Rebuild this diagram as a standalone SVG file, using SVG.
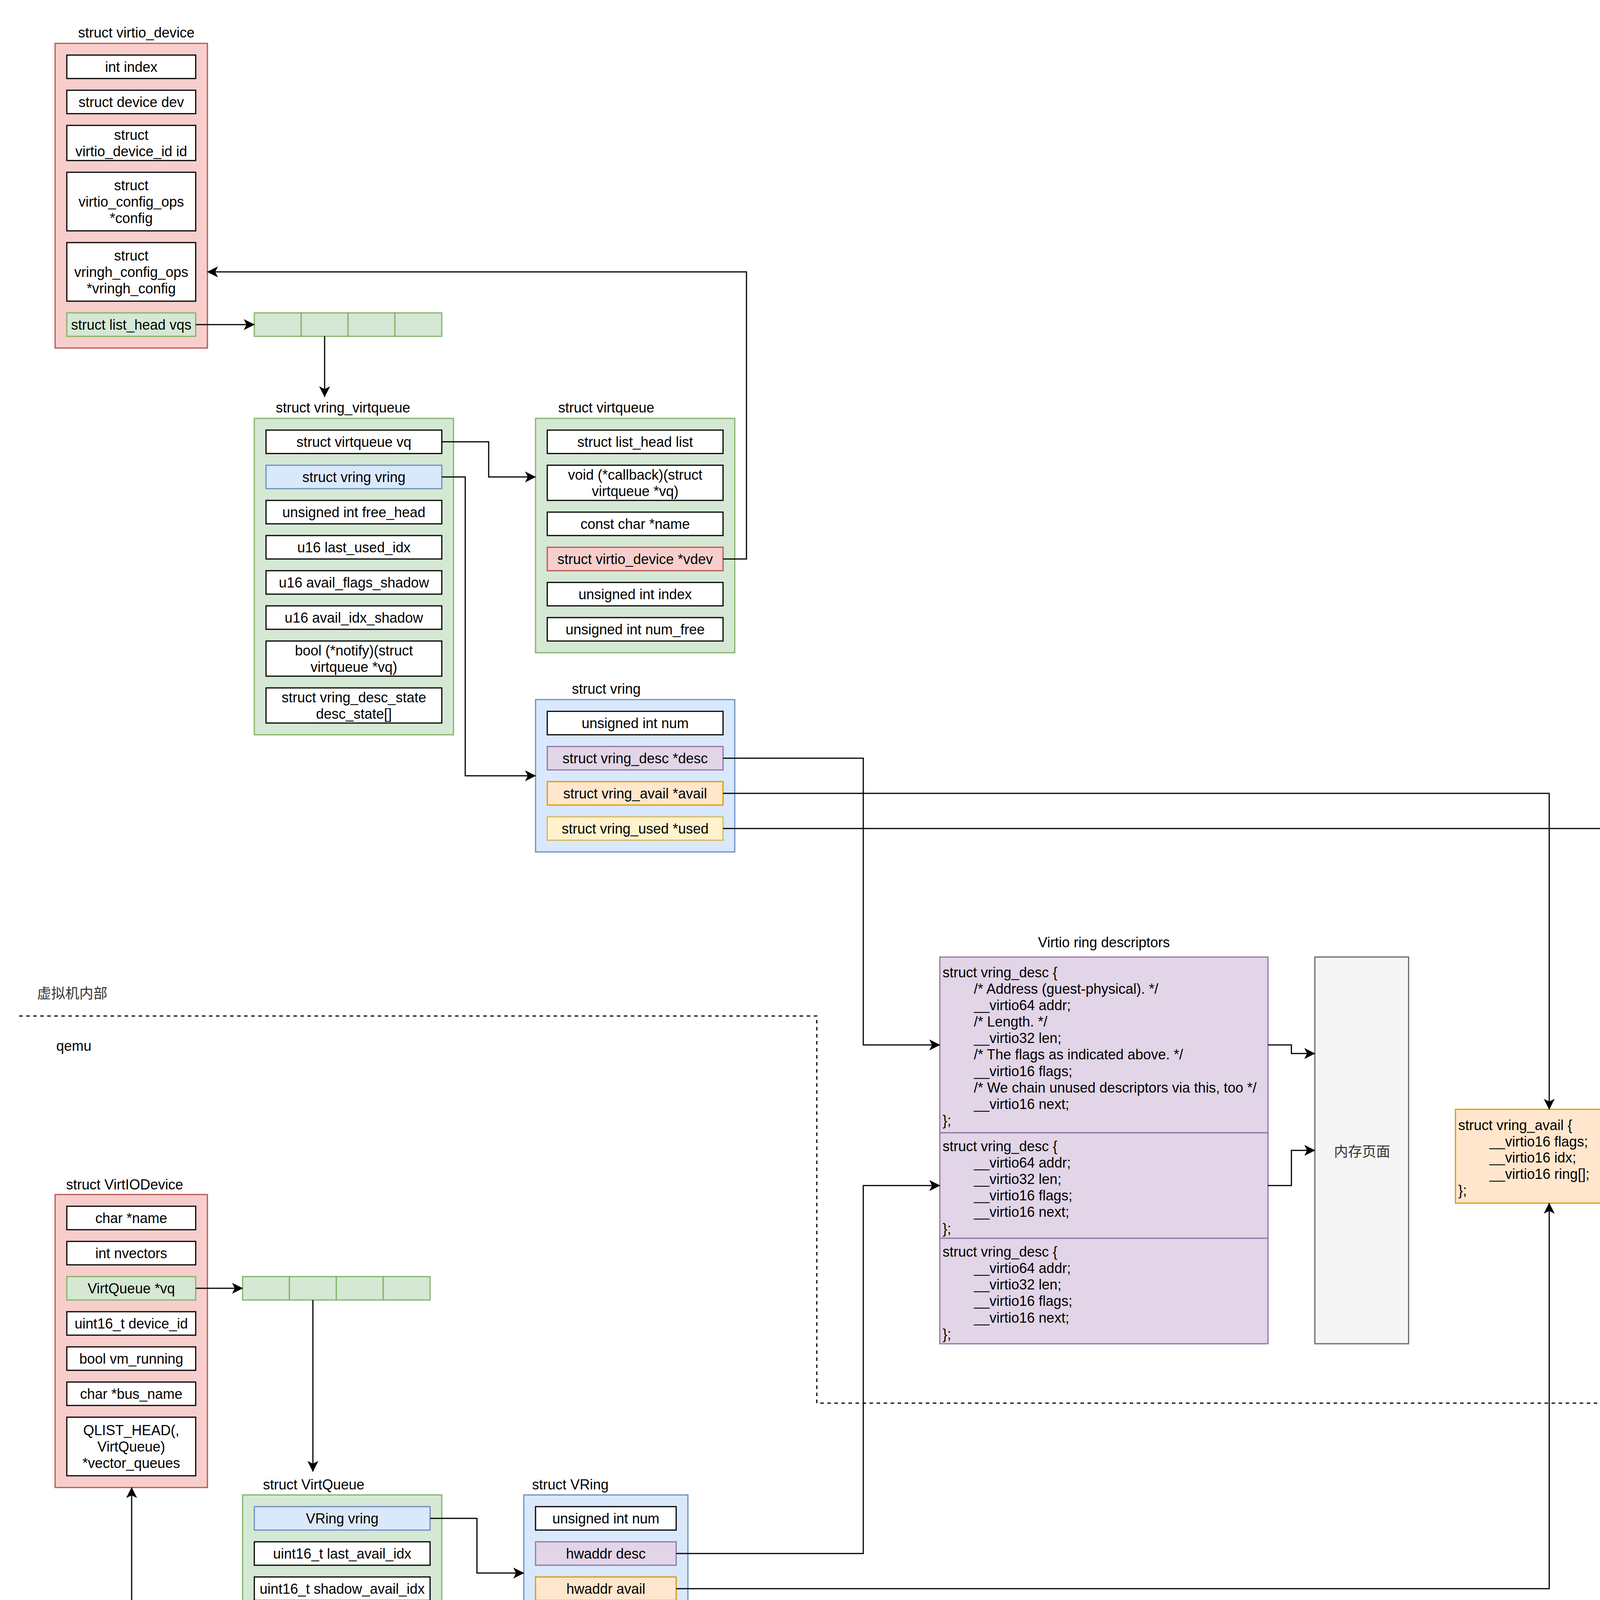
<svg xmlns="http://www.w3.org/2000/svg" width="5158" height="4690" viewBox="0 0 5158 4690">
<defs>
<style>
text{font-family:"Liberation Sans",Arial,Helvetica,sans-serif;font-size:36px;fill:#000}
.c{text-anchor:middle}
.cjk{font-family:"Noto Sans CJK SC","Liberation Sans",sans-serif;fill:#333}
.w{fill:#fff;stroke:#000;stroke-width:3}
.red{fill:#f8cecc;stroke:#b85450;stroke-width:3}
.grn{fill:#d5e8d4;stroke:#82b366;stroke-width:3}
.blu{fill:#dae8fc;stroke:#6c8ebf;stroke-width:3}
.pur{fill:#e1d5e7;stroke:#9673a6;stroke-width:3}
.org{fill:#ffe6cc;stroke:#d79b00;stroke-width:3}
.yel{fill:#fff2cc;stroke:#d6b656;stroke-width:3}
.gry{fill:#f5f5f5;stroke:#666666;stroke-width:3}
.conn{fill:none;stroke:#000;stroke-width:3;marker-end:url(#arr)}
.dash{fill:none;stroke:#000;stroke-width:3;stroke-dasharray:9 9}
</style>
<marker id="arr" viewBox="0 0 28 28" refX="27" refY="14" markerWidth="28" markerHeight="28" orient="auto" markerUnits="userSpaceOnUse"><path d="M0,0 L28,14 L0,28 L7,14 Z" fill="#000"/></marker>
</defs>
<rect width="5158" height="4690" fill="#fff"/>

<g id="region-labels">
<path class="dash" d="M49,2601 H2091 V3592 H5103"/>
<text class="cjk" x="95" y="2556">虚拟机内部</text>
<text x="144" y="2690">qemu</text>
</g>

<g id="virtio_device">
<text class="c" x="349" y="96">struct virtio_device</text>
<rect class="red" x="141" y="111" width="390" height="780"/>
<rect class="w" x="171" y="141" width="330" height="60"/><text class="c" x="336" y="184">int index</text>
<rect class="w" x="171" y="231" width="330" height="60"/><text class="c" x="336" y="274">struct device dev</text>
<rect class="w" x="171" y="321" width="330" height="90"/><text class="c" x="336" y="358">struct</text><text class="c" x="336" y="400">virtio_device_id id</text>
<rect class="w" x="171" y="441" width="330" height="150"/><text class="c" x="336" y="487">struct</text><text class="c" x="336" y="529">virtio_config_ops</text><text class="c" x="336" y="571">*config</text>
<rect class="w" x="171" y="621" width="330" height="150"/><text class="c" x="336" y="667">struct</text><text class="c" x="336" y="709">vringh_config_ops</text><text class="c" x="336" y="751">*vringh_config</text>
<rect class="grn" x="171" y="801" width="330" height="60"/><text class="c" x="336" y="844">struct list_head vqs</text>
</g>

<g id="vqs_array">
<rect class="grn" x="651" y="801" width="120" height="60"/>
<rect class="grn" x="771" y="801" width="120" height="60"/>
<rect class="grn" x="891" y="801" width="120" height="60"/>
<rect class="grn" x="1011" y="801" width="120" height="60"/>
</g>

<g id="vring_virtqueue">
<text class="c" x="878" y="1056">struct vring_virtqueue</text>
<rect class="grn" x="651" y="1071" width="510" height="810"/>
<rect class="w" x="681" y="1101" width="450" height="60"/><text class="c" x="906" y="1144">struct virtqueue vq</text>
<rect class="blu" x="681" y="1191" width="450" height="60"/><text class="c" x="906" y="1234">struct vring vring</text>
<rect class="w" x="681" y="1281" width="450" height="60"/><text class="c" x="906" y="1324">unsigned int free_head</text>
<rect class="w" x="681" y="1371" width="450" height="60"/><text class="c" x="906" y="1414">u16 last_used_idx</text>
<rect class="w" x="681" y="1461" width="450" height="60"/><text class="c" x="906" y="1504">u16 avail_flags_shadow</text>
<rect class="w" x="681" y="1551" width="450" height="60"/><text class="c" x="906" y="1594">u16 avail_idx_shadow</text>
<rect class="w" x="681" y="1641" width="450" height="90"/><text class="c" x="906" y="1678">bool (*notify)(struct</text><text class="c" x="906" y="1720">virtqueue *vq)</text>
<rect class="w" x="681" y="1761" width="450" height="90"/><text class="c" x="906" y="1798">struct vring_desc_state</text><text class="c" x="906" y="1840">desc_state[]</text>
</g>

<g id="virtqueue">
<text class="c" x="1552" y="1056">struct virtqueue</text>
<rect class="grn" x="1371" y="1071" width="510" height="600"/>
<rect class="w" x="1401" y="1101" width="450" height="60"/><text class="c" x="1626" y="1144">struct list_head list</text>
<rect class="w" x="1401" y="1191" width="450" height="90"/><text class="c" x="1626" y="1228">void (*callback)(struct</text><text class="c" x="1626" y="1270">virtqueue *vq)</text>
<rect class="w" x="1401" y="1311" width="450" height="60"/><text class="c" x="1626" y="1354">const char *name</text>
<rect class="red" x="1401" y="1401" width="450" height="60"/><text class="c" x="1626" y="1444">struct virtio_device *vdev</text>
<rect class="w" x="1401" y="1491" width="450" height="60"/><text class="c" x="1626" y="1534">unsigned int index</text>
<rect class="w" x="1401" y="1581" width="450" height="60"/><text class="c" x="1626" y="1624">unsigned int num_free</text>
</g>

<g id="vring">
<text class="c" x="1552" y="1776">struct vring</text>
<rect class="blu" x="1371" y="1791" width="510" height="390"/>
<rect class="w" x="1401" y="1821" width="450" height="60"/><text class="c" x="1626" y="1864">unsigned int num</text>
<rect class="pur" x="1401" y="1911" width="450" height="60"/><text class="c" x="1626" y="1954">struct vring_desc *desc</text>
<rect class="org" x="1401" y="2001" width="450" height="60"/><text class="c" x="1626" y="2044">struct vring_avail *avail</text>
<rect class="yel" x="1401" y="2091" width="450" height="60"/><text class="c" x="1626" y="2134">struct vring_used *used</text>
</g>

<g id="vring_desc_table">
<text class="c" x="2826" y="2425">Virtio ring descriptors</text>
<rect class="pur" x="2406" y="2450" width="840" height="450"/>
<rect class="pur" x="2406" y="2900" width="840" height="270"/>
<rect class="pur" x="2406" y="3170" width="840" height="270"/>
<text x="2413" y="2502">struct vring_desc {</text>
<text x="2493" y="2544">/* Address (guest-physical). */</text>
<text x="2493" y="2586">__virtio64 addr;</text>
<text x="2493" y="2628">/* Length. */</text>
<text x="2493" y="2670">__virtio32 len;</text>
<text x="2493" y="2712">/* The flags as indicated above. */</text>
<text x="2493" y="2755">__virtio16 flags;</text>
<text x="2493" y="2797">/* We chain unused descriptors via this, too */</text>
<text x="2493" y="2839">__virtio16 next;</text>
<text x="2413" y="2881">};</text>
<text x="2413" y="2947">struct vring_desc {</text>
<text x="2493" y="2989">__virtio64 addr;</text>
<text x="2493" y="3031">__virtio32 len;</text>
<text x="2493" y="3073">__virtio16 flags;</text>
<text x="2493" y="3115">__virtio16 next;</text>
<text x="2413" y="3158">};</text>
<text x="2413" y="3217">struct vring_desc {</text>
<text x="2493" y="3259">__virtio64 addr;</text>
<text x="2493" y="3301">__virtio32 len;</text>
<text x="2493" y="3343">__virtio16 flags;</text>
<text x="2493" y="3386">__virtio16 next;</text>
<text x="2413" y="3428">};</text>
</g>

<g id="memory_pages">
<rect class="gry" x="3366" y="2450" width="240" height="990"/>
<text class="cjk c" x="3487" y="2961">内存页面</text>
</g>

<g id="vring_avail">
<rect class="org" x="3726" y="2840" width="480" height="240"/>
<text x="3733" y="2893">struct vring_avail {</text>
<text x="3813" y="2935">__virtio16 flags;</text>
<text x="3813" y="2976">__virtio16 idx;</text>
<text x="3813" y="3018">__virtio16 ring[];</text>
<text x="3733" y="3060">};</text>
</g>

<g id="vring_used">
<rect class="yel" x="4326" y="2840" width="600" height="240"/>
<text x="4333" y="2893">struct vring_used {</text>
<text x="4413" y="2935">__virtio16 flags;</text>
<text x="4413" y="2976">__virtio16 idx;</text>
<text x="4413" y="3018">struct vring_used_elem ring[];</text>
<text x="4333" y="3060">};</text>
</g>

<g id="VirtIODevice">
<text class="c" x="319" y="3045">struct VirtIODevice</text>
<rect class="red" x="141" y="3058" width="390" height="750"/>
<rect class="w" x="171" y="3088" width="330" height="60"/><text class="c" x="336" y="3131">char *name</text>
<rect class="w" x="171" y="3178" width="330" height="60"/><text class="c" x="336" y="3221">int nvectors</text>
<rect class="grn" x="171" y="3268" width="330" height="60"/><text class="c" x="336" y="3311">VirtQueue *vq</text>
<rect class="w" x="171" y="3358" width="330" height="60"/><text class="c" x="336" y="3401">uint16_t device_id</text>
<rect class="w" x="171" y="3448" width="330" height="60"/><text class="c" x="336" y="3491">bool vm_running</text>
<rect class="w" x="171" y="3538" width="330" height="60"/><text class="c" x="336" y="3581">char *bus_name</text>
<rect class="w" x="171" y="3628" width="330" height="150"/><text class="c" x="336" y="3674">QLIST_HEAD(,</text><text class="c" x="336" y="3716">VirtQueue)</text><text class="c" x="336" y="3758">*vector_queues</text>
</g>

<g id="vq_array">
<rect class="grn" x="621" y="3268" width="120" height="60"/>
<rect class="grn" x="741" y="3268" width="120" height="60"/>
<rect class="grn" x="861" y="3268" width="120" height="60"/>
<rect class="grn" x="981" y="3268" width="120" height="60"/>
</g>

<g id="VirtQueue">
<text class="c" x="803" y="3813">struct VirtQueue</text>
<rect class="grn" x="621" y="3827" width="510" height="810"/>
<rect class="blu" x="651" y="3857" width="450" height="60"/><text class="c" x="876" y="3900">VRing vring</text>
<rect class="w" x="651" y="3947" width="450" height="60"/><text class="c" x="876" y="3990">uint16_t last_avail_idx</text>
<rect class="w" x="651" y="4037" width="450" height="60"/><text class="c" x="876" y="4080">uint16_t shadow_avail_idx</text>
<rect class="w" x="651" y="4127" width="450" height="60"/><text class="c" x="876" y="4170">uint16_t used_idx</text>
<rect class="w" x="651" y="4217" width="450" height="60"/><text class="c" x="876" y="4260">uint16_t queue_index</text>
<rect class="w" x="651" y="4307" width="450" height="60"/><text class="c" x="876" y="4350">uint16_t vector</text>
<rect class="w" x="651" y="4397" width="450" height="120"/><text class="c" x="876" y="4449">VirtIOHandleOutput</text><text class="c" x="876" y="4491">handle_output</text>
<rect class="red" x="651" y="4547" width="450" height="60"/><text class="c" x="876" y="4590">VirtIODevice *vdev</text>
</g>

<g id="VRing">
<text class="c" x="1460" y="3813">struct VRing</text>
<rect class="blu" x="1341" y="3827" width="420" height="400"/>
<rect class="w" x="1371" y="3857" width="360" height="60"/><text class="c" x="1551" y="3900">unsigned int num</text>
<rect class="pur" x="1371" y="3947" width="360" height="60"/><text class="c" x="1551" y="3990">hwaddr desc</text>
<rect class="org" x="1371" y="4037" width="360" height="60"/><text class="c" x="1551" y="4080">hwaddr avail</text>
<rect class="yel" x="1371" y="4127" width="360" height="60"/><text class="c" x="1551" y="4170">hwaddr used</text>
</g>

<g id="connectors">
<path class="conn" d="M501,831 H651"/>
<path class="conn" d="M831,861 V1016"/>
<path class="conn" d="M1131,1131 H1251 V1221 H1371"/>
<path class="conn" d="M1131,1221 H1191 V1986 H1371"/>
<path class="conn" d="M1851,1431 H1911 V696 H531"/>
<path class="conn" d="M1851,1941 H2210 V2675 H2406"/>
<path class="conn" d="M1851,2031 H3966 V2840"/>
<path class="conn" d="M1851,2121 H4626 V2840"/>
<path class="conn" d="M3246,2675 H3306 V2697 H3366"/>
<path class="conn" d="M3246,3035 H3306 V2945 H3366"/>
<path class="conn" d="M501,3298 H621"/>
<path class="conn" d="M801,3328 V3767"/>
<path class="conn" d="M1101,3887 H1221 V4027 H1341"/>
<path class="conn" d="M651,4577 H337 V3808"/>
<path class="conn" d="M1731,3977 H2210 V3035 H2406"/>
<path class="conn" d="M1731,4067 H3966 V3080"/>
<path class="conn" d="M1731,4157 H4626 V3080"/>
</g>
</svg>
